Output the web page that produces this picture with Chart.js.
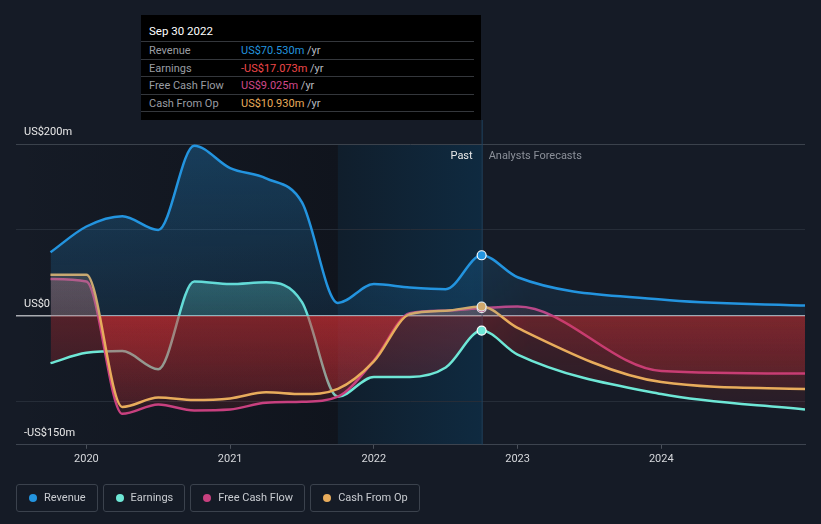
<!DOCTYPE html>
<html>
<head>
<meta charset="utf-8">
<script src="https://cdn.jsdelivr.net/npm/chart.js@4.4.0/dist/chart.umd.min.js"></script>
<style>
  body { margin:0; background:#151b26; font-family:Roboto, "Noto Sans", sans-serif; }
  #wrap { position:relative; width:821px; height:524px; }
  #tip { position:absolute; left:141px; top:15px; width:340px; height:105px; background:#000; font-size:11px; color:#9a9da3; }
  #tip .title { position:absolute; left:8px; top:9px; color:#fff; font-size:11.5px; }
  #tip .row { position:absolute; left:0; width:333px; height:17px; border-top:1px solid #34373c; line-height:17px; }
  #tip .row span.l { position:absolute; left:8px; }
  #tip .row span.v { position:absolute; left:100px; }
  #tip .row span.v i { font-style:normal; color:#b8bbc0; }
  #legend { position:absolute; left:16px; top:484px; display:flex; gap:5px; }
  #legend div { border:1px solid #3b424d; border-radius:3px; height:26px; line-height:26px; color:#c9ccd1; font-size:11px; padding:0 11px 0 27px; position:relative; }
  #legend div b { position:absolute; left:12px; top:9px; width:8px; height:8px; border-radius:50%; }
</style>
</head>
<body>
<div id="wrap">
  <canvas id="myChart" width="821" height="524"></canvas>
  <div id="tip"></div>
  <div id="legend"></div>
</div>
<script>
var names = ["Revenue", "Earnings", "Free Cash Flow", "Cash From Op"];
var colors = ["#2394df", "#6ee7d6", "#c8407f", "#e8ac5c"];
var dates = [2019.75, 2020.0, 2020.25, 2020.5, 2020.75, 2021.0, 2021.25, 2021.5, 2021.75, 2022.0, 2022.25, 2022.5, 2022.75, 2023.0, 2024.0, 2025.0];
var revenue  = [74, 104, 116, 100, 198, 172, 160, 132, 15, 37, 33, 31, 70.53, 45, 19, 12];
var earnings = [-55, -43, -41, -62, 40, 37, 39, 16, -94, -71, -71, -60, -17.07, -45, -91, -109];
var fcf      = [43, 40, -114, -103, -110, -109, -101, -100, -94, -52, 3, 6, 9.03, 11, -64, -67];
var cfo      = [48, 48, -106, -95, -98, -96, -89, -91, -85, -53, 2, 6, 10.93, -14, -77, -85];
var yearTicks = [2020, 2021, 2022, 2023, 2024];
var yLines = [-150, -100, 0, 100, 200];
var yLabels = [[200, "US$200m"], [0, "US$0"], [-150, "-US$150m"]];
var tipDate = "Sep 30 2022";
var tipValues = ["US$70.530m", "-US$17.073m", "US$9.025m", "US$10.930m"];
var tipColors = ["#2394df", "#f0484b", "#d0488a", "#e8ac5c"];
var pastStart = 2021.75, nowDate = 2022.75;

// tooltip box and legend as html text
var tip = document.getElementById("tip");
var h = '<div class="title">' + tipDate + '</div>';
for (var i = 0; i < names.length; i++) {
  h += '<div class="row" style="top:' + (26 + i * 17.5) + 'px"><span class="l">' + names[i] + '</span><span class="v" style="color:' + tipColors[i] + '">' + tipValues[i] + ' <i>/yr</i></span></div>';
}
h += '<div class="row" style="top:96px;height:0"></div>';
tip.innerHTML = h;
var lg = "";
for (var i = 0; i < names.length; i++) {
  lg += '<div><b style="background:' + colors[i] + '"></b>' + names[i] + '</div>';
}
document.getElementById("legend").innerHTML = lg;

// fill patterns (vertical fade, dimmer in the forecast part)
function makeFill(rgb, top, bottom, a0, a1) {
  var c = document.createElement("canvas");
  c.width = 821; c.height = 524;
  var g = c.getContext("2d");
  var grad = g.createLinearGradient(0, top, 0, bottom);
  grad.addColorStop(0, "rgba(" + rgb + "," + a0 + ")");
  grad.addColorStop(1, "rgba(" + rgb + "," + a1 + ")");
  g.fillStyle = grad;
  g.fillRect(0, 0, 821, 524);
  g.globalCompositeOperation = "destination-in";
  var hg = g.createLinearGradient(470, 0, 530, 0);
  hg.addColorStop(0, "rgba(0,0,0,1)");
  hg.addColorStop(1, "rgba(0,0,0,0.7)");
  g.fillStyle = hg;
  g.fillRect(0, 0, 821, 524);
  return document.getElementById("myChart").getContext("2d").createPattern(c, "no-repeat");
}
var red = makeFill("200,45,50", 315, 444, 0.35, 0.06);
var fills = [
  makeFill("35,148,223", 144, 315, 0.30, 0.12),
  makeFill("110,231,214", 270, 315, 0.32, 0.22),
  makeFill("200,100,120", 270, 315, 0.28, 0.2),
  makeFill("220,150,110", 270, 315, 0.22, 0.18)
];
var series = [revenue, earnings, fcf, cfo];
var orders = [0, 3, 2, 1];

var datasets = [];
for (var i = 0; i < series.length; i++) {
  datasets.push({
    label: names[i],
    data: dates.map(function(d, k){ return {x: d, y: series[this][k]}; }, i),
    borderColor: colors[i],
    borderWidth: 2.5,
    cubicInterpolationMode: "monotone",
    fill: {target: "origin", above: fills[i], below: red},
    pointRadius: function(c){ return c.raw && c.raw.x === nowDate ? 4.5 : 0; },
    pointBackgroundColor: colors[i],
    pointBorderColor: "#ffffff",
    pointBorderWidth: 1.2,
    order: orders[i]
  });
}

var decor = {
  id: "decor",
  beforeDraw: function(chart){
    var c = chart.ctx, a = chart.chartArea, x = chart.scales.x;
    c.save();
    c.fillStyle = "#151b26";
    c.fillRect(0, 0, chart.width, chart.height);
    var x0 = x.getPixelForValue(pastStart), x1 = x.getPixelForValue(nowDate);
    var g = c.createLinearGradient(a.left, 0, x0, 0);
    g.addColorStop(0, "rgba(10,12,18,0)");
    g.addColorStop(1, "rgba(10,12,18,0.45)");
    c.fillStyle = g;
    c.fillRect(a.left, a.top, x0 - a.left, a.bottom - a.top);
    var b = c.createLinearGradient(x0, 0, x1, 0);
    b.addColorStop(0, "rgba(16,30,44,1)");
    b.addColorStop(1, "rgba(15,42,64,1)");
    c.fillStyle = b;
    c.fillRect(x0, a.top, x1 - x0, a.bottom - a.top);
    c.restore();
  },
  beforeDatasetsDraw: function(chart){
    var c = chart.ctx, a = chart.chartArea, x = chart.scales.x;
    var xn = x.getPixelForValue(nowDate);
    c.save();
    c.strokeStyle = "#1f4461";
    c.lineWidth = 1;
    c.beginPath();
    c.moveTo(xn + 0.5, 120);
    c.lineTo(xn + 0.5, a.bottom);
    c.stroke();
    c.restore();
  },
  afterDraw: function(chart){
    var c = chart.ctx, a = chart.chartArea, x = chart.scales.x, y = chart.scales.y;
    var xn = x.getPixelForValue(nowDate);
    c.save();
    c.font = "11px Roboto";
    c.textBaseline = "middle";
    c.textAlign = "right";
    c.fillStyle = "#e8e8e8";
    c.fillText("Past", xn - 9, a.top + 12);
    c.textAlign = "left";
    c.fillStyle = "#8b9099";
    c.fillText("Analysts Forecasts", xn + 7, a.top + 12);
    c.fillStyle = "#e8e8e8";
    c.textBaseline = "alphabetic";
    yLabels.forEach(function(l){
      c.fillText(l[1], 24, y.getPixelForValue(l[0]) - 9);
    });
    c.restore();
  }
};

var chart = new Chart(document.getElementById("myChart"), {
  type: "line",
  data: {datasets: datasets},
  options: {
    responsive: false,
    animation: false,
    layout: {padding: {left: 16, right: 16, top: 144, bottom: 54}},
    plugins: {legend: {display: false}, tooltip: {enabled: false}},
    scales: {
      x: {
        type: "linear", min: 2019.51, max: 2025.0,
        afterBuildTicks: function(s){ s.ticks = yearTicks.map(function(v){ return {value: v}; }); },
        ticks: {color: "#d6d8dc", font: {family: "Roboto", size: 11}, padding: 4, callback: function(v){ return String(v); }},
        grid: {drawOnChartArea: false, drawTicks: true, tickLength: 4, color: "#4a505a"},
        border: {color: "#3d444f"}
      },
      y: {
        min: -150, max: 200,
        afterBuildTicks: function(s){ s.ticks = yLines.map(function(v){ return {value: v}; }); },
        ticks: {display: false},
        grid: {drawTicks: false, color: function(c){ return c.tick.value === 0 ? "#a9acb1" : (c.tick.value === 200 ? "#3b424c" : "#262d38"); }, lineWidth: function(c){ return c.tick.value === 0 ? 1.5 : 1; }},
        border: {display: false}
      }
    }
  },
  plugins: [decor]
});
</script>
</body>
</html>
